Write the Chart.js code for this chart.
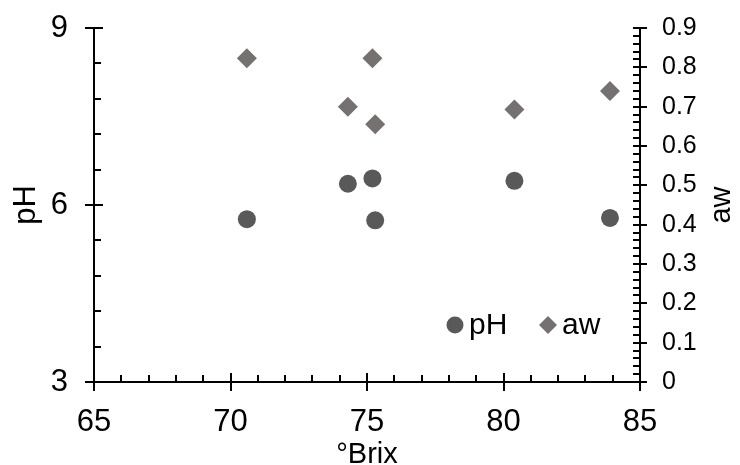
<!DOCTYPE html>
<html>
<head>
<meta charset="utf-8">
<script src="https://cdn.jsdelivr.net/npm/chart.js@4.4.1/dist/chart.umd.min.js"></script>
<style>
  html, body { margin: 0; padding: 0; background: #fff; }
  #wrap { width: 740px; height: 465px; }
</style>
</head>
<body>
<div id="wrap"><canvas id="grafico"></canvas></div>
<script>
/* pH e aw em função do °Brix */

const brix = [70.6, 74.3, 75.2, 75.3, 80.4, 83.9];
const ph   = [5.76, 6.36, 6.45, 5.74, 6.41, 5.78];
const aw   = [0.823, 0.700, 0.823, 0.655, 0.693, 0.740];

const FONTE = "'Liberation Sans', Arial, sans-serif";
const COR_PH = '#595959';
const COR_AW = '#767171';

// marcas dos eixos: principais cruzando o eixo, secundárias para dentro
const marcas = {
  id: 'marcas',
  afterDraw(chart) {
    const { ctx, chartArea: a, scales } = chart;
    ctx.save();
    ctx.strokeStyle = '#000';
    ctx.lineWidth = 2;
    const linha = (x1, y1, x2, y2) => {
      ctx.beginPath(); ctx.moveTo(x1, y1); ctx.lineTo(x2, y2); ctx.stroke();
    };
    const passos = (s, menor, maior) => {
      const n = Math.round((s.max - s.min) / menor);
      for (let i = 0; i <= n; i++) {
        const v = s.min + i * menor;
        const ehMaior = Math.abs(v / maior - Math.round(v / maior)) < 1e-6;
        const p = Math.round(s.getPixelForValue(v));
        if (s.axis === 'x') {
          ehMaior ? linha(p, a.bottom - 9, p, a.bottom + 9) : linha(p, a.bottom, p, a.bottom - 7);
        } else if (s.position === 'left') {
          ehMaior ? linha(a.left - 9, p, a.left + 9, p) : linha(a.left, p, a.left + 7, p);
        } else {
          ehMaior ? linha(a.right - 7, p, a.right + 7, p) : linha(a.right, p, a.right - 7, p);
        }
      }
    };
    passos(scales.x, 1, 5);
    passos(scales.y, 0.6, 3);
    passos(scales.y2, 0.02, 0.1);
    ctx.restore();
  }
};

// título do eixo secundário, lido de baixo para cima como o do eixo pH
const tituloAw = {
  id: 'tituloAw',
  afterDraw(chart) {
    const { ctx, chartArea: a } = chart;
    ctx.save();
    ctx.translate(722, (a.top + a.bottom) / 2);
    ctx.rotate(-Math.PI / 2);
    ctx.font = `29px ${FONTE}`;
    ctx.fillStyle = '#000';
    ctx.textAlign = 'center';
    ctx.textBaseline = 'middle';
    ctx.fillText('aw', 0, 0);
    ctx.restore();
  }
};

// legenda dentro da área do gráfico, canto inferior direito
const legenda = {
  id: 'legenda',
  afterDraw(chart) {
    const { ctx } = chart;
    const itens = [
      { x: 455, y: 325, ds: chart.data.datasets[0], r: 8.5 },
      { x: 548, y: 325, ds: chart.data.datasets[1], r: 9 }
    ];
    ctx.save();
    ctx.font = `30px ${FONTE}`;
    ctx.textBaseline = 'middle';
    itens.forEach(it => {
      ctx.fillStyle = it.ds.backgroundColor;
      ctx.beginPath();
      if (it.ds.pointStyle === 'rectRot') {
        ctx.moveTo(it.x - it.r, it.y);
        ctx.lineTo(it.x, it.y - it.r);
        ctx.lineTo(it.x + it.r, it.y);
        ctx.lineTo(it.x, it.y + it.r);
        ctx.closePath();
      } else {
        ctx.arc(it.x, it.y, it.r, 0, Math.PI * 2);
      }
      ctx.fill();
      ctx.fillStyle = '#000';
      ctx.fillText(it.ds.label, it.x + 14, it.y + 1);
    });
    ctx.restore();
  }
};

// tamanhos fixos das faixas dos eixos
const fixaY = largura => s => {
  s.width = largura;
  s.paddingTop = 0;
  s.paddingBottom = 0;
};

new Chart(document.getElementById('grafico'), {
  type: 'scatter',
  data: {
    datasets: [
      {
        label: 'pH',
        data: brix.map((b, i) => ({ x: b, y: ph[i] })),
        yAxisID: 'y',
        pointStyle: 'circle',
        pointRadius: 9,
        pointHoverRadius: 9,
        backgroundColor: COR_PH,
        borderWidth: 0
      },
      {
        label: 'aw',
        data: brix.map((b, i) => ({ x: b, y: aw[i] })),
        yAxisID: 'y2',
        pointStyle: 'rectRot',
        pointRadius: 10,
        pointHoverRadius: 10,
        backgroundColor: COR_AW,
        borderWidth: 0
      }
    ]
  },
  options: {
    responsive: true,
    maintainAspectRatio: false,
    animation: false,
    layout: { padding: { top: 28, left: 0, right: 0, bottom: 0 } },
    plugins: {
      legend: { display: false },
      tooltip: { enabled: false }
    },
    scales: {
      x: {
        type: 'linear',
        min: 65,
        max: 85,
        afterFit: s => { s.height = 83; s.paddingLeft = 0; s.paddingRight = 0; },
        grid: { display: false, drawTicks: false },
        border: { display: true, color: '#000', width: 2 },
        ticks: { stepSize: 5, color: '#000', padding: 22, font: { family: FONTE, size: 31 } },
        title: { display: true, text: '°Brix', color: '#000', padding: 0, font: { family: FONTE, size: 29, lineHeight: 0.72 } }
      },
      y: {
        position: 'left',
        min: 3,
        max: 9,
        afterFit: fixaY(94),
        grid: { display: false, drawTicks: false },
        border: { display: true, color: '#000', width: 2 },
        ticks: { stepSize: 3, color: '#000', padding: 26, font: { family: FONTE, size: 31 } },
        title: { display: true, text: 'pH', color: '#000', padding: { top: 8, bottom: 0 }, font: { family: FONTE, size: 31 } }
      },
      y2: {
        position: 'right',
        min: 0,
        max: 0.9,
        afterFit: fixaY(100),
        grid: { display: false, drawTicks: false },
        border: { display: true, color: '#000', width: 2 },
        ticks: { stepSize: 0.1, color: '#000', padding: 22, font: { family: FONTE, size: 25 } },
        title: { display: false }
      }
    }
  },
  plugins: [marcas, tituloAw, legenda]
});
</script>
</body>
</html>
